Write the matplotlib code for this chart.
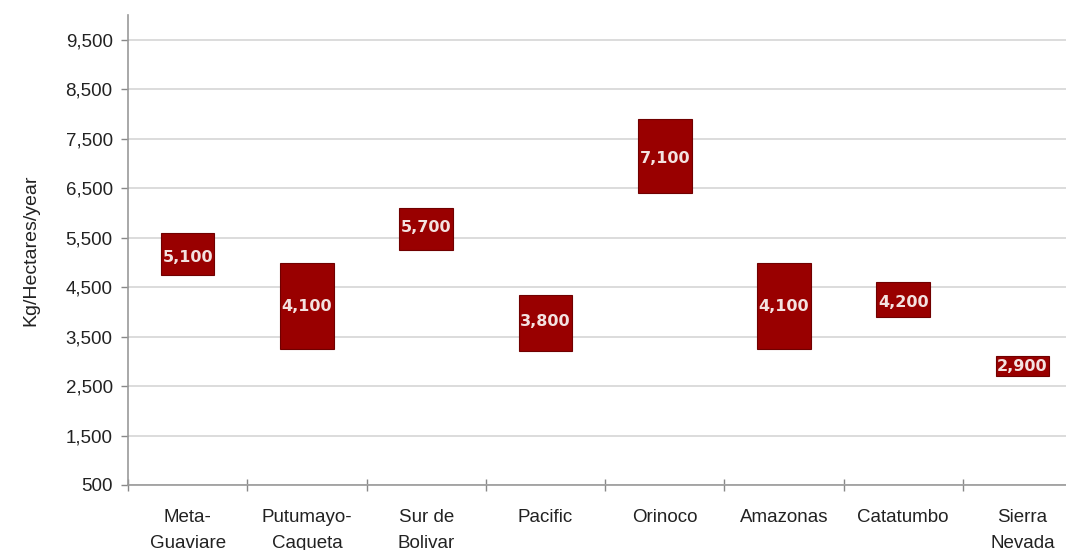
import numpy as np
import matplotlib
matplotlib.use("Agg")
import matplotlib.pyplot as plt

# yield ranges per region (kg/ha/year): low, high and the central estimate
regions = ["Meta-\nGuaviare", "Putumayo-\nCaqueta", "Sur de\nBolivar", "Pacific",
           "Orinoco", "Amazonas", "Catatumbo", "Sierra\nNevada"]
low = [4750, 3250, 5250, 3200, 6400, 3250, 3900, 2700]
high = [5600, 5000, 6100, 4350, 7900, 5000, 4600, 3100]
central = [5100, 4100, 5700, 3800, 7100, 4100, 4200, 2900]
yticks = [500, 1500, 2500, 3500, 4500, 5500, 6500, 7500, 8500, 9500]

plt.rcParams["font.family"] = ["Liberation Sans", "DejaVu Sans"]

fig = plt.figure(figsize=(10.66, 5.5), dpi=100)
# the plot area runs a little past the right edge of the canvas
ax = fig.add_axes([0.1201, 0.1182, 0.895, 0.854])

x = np.arange(len(regions))
heights = np.array(high) - np.array(low)
ax.bar(x, heights, bottom=low, width=0.45, color="#990000",
       edgecolor="#700000", linewidth=0.8, zorder=3)

for xi, v in zip(x, central):
    ax.text(xi, v, f"{v:,}", ha="center", va="center", fontsize=11.5,
            fontweight="bold", family="DejaVu Sans", color="#F3E2E0", zorder=4)

ax.set_ylim(500, 10000)
ax.set_xlim(-0.5, len(regions) - 0.5)
ax.set_yticks(yticks)
ax.set_yticklabels([f"{t:,}" for t in yticks])
ax.yaxis.grid(True, color="#DCDCDC", linewidth=1.4, zorder=0)
ax.set_axisbelow(True)

# category boundaries carry the tick marks, centres carry the names
ax.set_xticks(np.arange(len(regions) + 1) - 0.5)
ax.set_xticklabels([])
ax.set_xticks(x, minor=True)
ax.set_xticklabels(regions, minor=True, fontsize=13.5, color="#222222",
                   linespacing=1.75)
ax.tick_params(axis="x", which="major", direction="inout", length=9,
               width=1, color="#888888")
ax.tick_params(axis="x", which="minor", length=0, pad=17)
ax.tick_params(axis="y", direction="out", length=5, width=1, color="#888888",
               labelsize=13.5, labelcolor="#222222", pad=6)

for side in ["top", "right"]:
    ax.spines[side].set_visible(False)
for side in ["left", "bottom"]:
    ax.spines[side].set_color("#999999")
    ax.spines[side].set_linewidth(1.2)

ax.set_ylabel("Kg/Hectares/year", fontsize=14, color="#222222", labelpad=19)

fig.savefig("out.png", dpi=100)
